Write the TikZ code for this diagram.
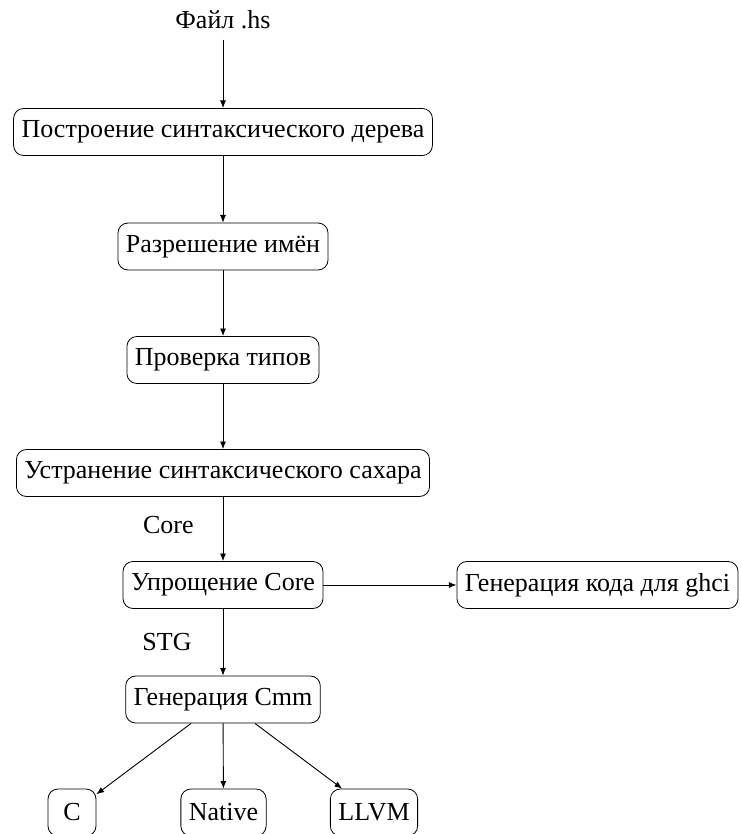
\documentclass[tikz,border=0pt]{standalone}
\usepackage{fontspec}
\setmainfont{Liberation Serif}
\usetikzlibrary{arrows.meta}
\tikzset{
  stagebox/.style={draw, rounded corners=5pt, minimum height=23.5pt, inner xsep=4pt, inner ysep=0pt},
  arr/.style={-{Latex[length=3.8pt,width=3pt]}, line width=0.45pt},
  lbl/.style={inner sep=0pt},
  srclbl/.style={inner xsep=0pt, inner ysep=5pt}
}
\begin{document}
\begin{tikzpicture}[x=0.5pt,y=-0.5pt, font=\fontsize{13}{15.5}\selectfont]
\useasboundingbox (0,0) rectangle (740,834);
\node[srclbl] (file) at (223,20) {Файл .hs};
\node[stagebox] (n1) at (223,132) {Построение синтаксического дерева};
\node[stagebox] (n2) at (223,246.5) {Разрешение имён};
\node[stagebox] (n3) at (223,360) {Проверка типов};
\node[stagebox] (n4) at (223,473) {Устранение синтаксического сахара};
\node[stagebox] (n5) at (223,585) {Упрощение Core};
\node[stagebox] (n6) at (597.5,585) {Генерация кода для ghci};
\node[stagebox] (n7) at (223,699.5) {Генерация Cmm};
\node[stagebox, minimum width=24pt] (c) at (72,812.5) {C};
\node[stagebox] (nat) at (223.5,812.5) {Native};
\node[stagebox] (llvm) at (374,812.5) {LLVM};
\draw[arr] (file) -- (n1);
\draw[arr] (n1) -- (n2);
\draw[arr] (n2) -- (n3);
\draw[arr] (n3) -- (n4);
\draw[arr] (n4) -- node[lbl, left=14.5pt, yshift=2pt] {Core} (n5);
\draw[arr] (n5) -- (n6);
\draw[arr] (n5) -- node[lbl, left=15.5pt] {STG} (n7);
\draw[arr] (n7) -- (c);
\draw[arr] (n7) -- (nat);
\draw[arr] (n7) -- (llvm);
\end{tikzpicture}
\end{document}
